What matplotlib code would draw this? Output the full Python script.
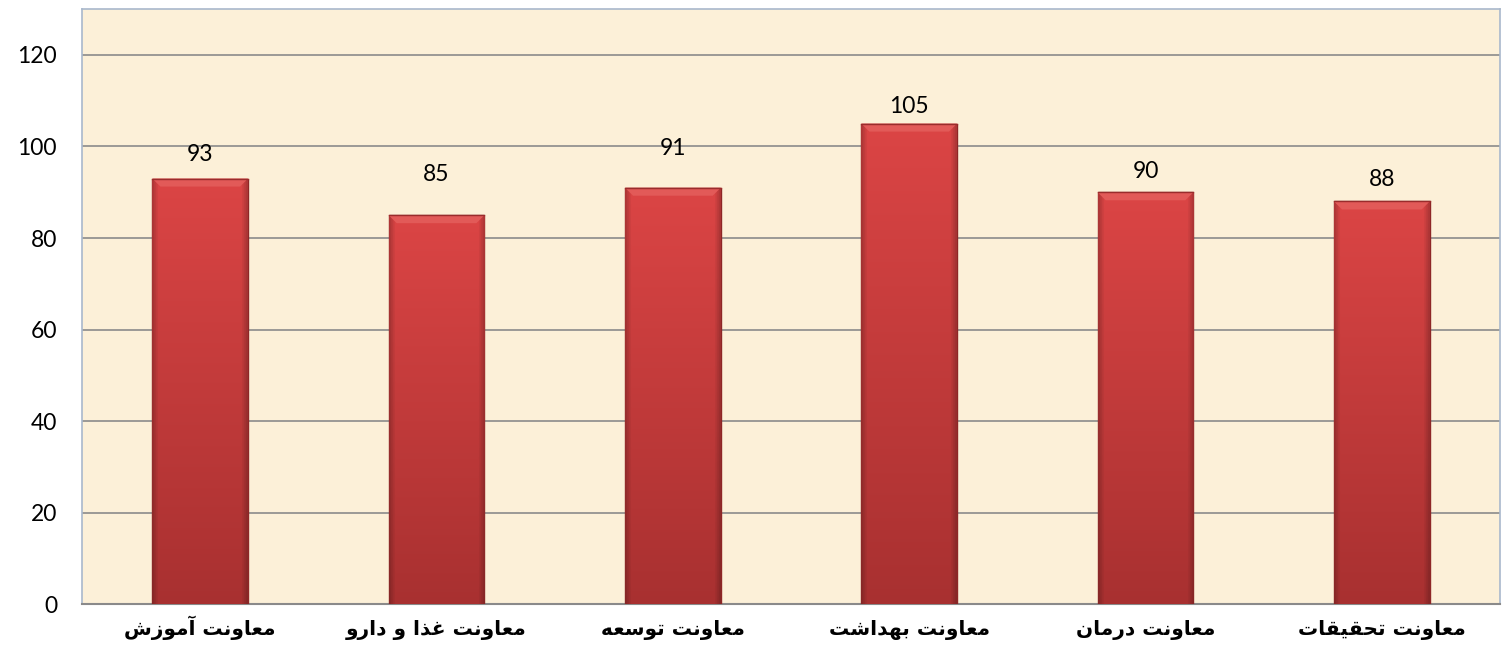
import matplotlib.pyplot as plt
import numpy as np
from matplotlib.patches import Polygon

# data (Persian labels in logical order, left to right on the chart)
categories = ['معاونت آموزش', 'معاونت غذا و دارو', 'معاونت توسعه',
              'معاونت بهداشت', 'معاونت درمان', 'معاونت تحقیقات']
values = [93, 85, 91, 105, 90, 88]
yticks = [0, 20, 40, 60, 80, 100, 120]

# label gaps above the bars (points), labels were placed by hand in the original
label_gap = [17, 29, 28, 12, 15, 16]

# minimal arabic/persian shaping (matplotlib has no shaping engine)
FORMS = {
    '\u0627': ('\uFE8D', '\uFE8E'),
    '\u0622': ('\uFE81', '\uFE82'),
    '\u062F': ('\uFEA9', '\uFEAA'),
    '\u0630': ('\uFEAB', '\uFEAC'),
    '\u0631': ('\uFEAD', '\uFEAE'),
    '\u0632': ('\uFEAF', '\uFEB0'),
    '\u0648': ('\uFEED', '\uFEEE'),
    '\u0628': ('\uFE8F', '\uFE90', '\uFE91', '\uFE92'),
    '\u062A': ('\uFE95', '\uFE96', '\uFE97', '\uFE98'),
    '\u062D': ('\uFEA1', '\uFEA2', '\uFEA3', '\uFEA4'),
    '\u0633': ('\uFEB1', '\uFEB2', '\uFEB3', '\uFEB4'),
    '\u0634': ('\uFEB5', '\uFEB6', '\uFEB7', '\uFEB8'),
    '\u0639': ('\uFEC9', '\uFECA', '\uFECB', '\uFECC'),
    '\u063A': ('\uFECD', '\uFECE', '\uFECF', '\uFED0'),
    '\u0642': ('\uFED5', '\uFED6', '\uFED7', '\uFED8'),
    '\u0645': ('\uFEE1', '\uFEE2', '\uFEE3', '\uFEE4'),
    '\u0646': ('\uFEE5', '\uFEE6', '\uFEE7', '\uFEE8'),
    '\u0647': ('\uFEE9', '\uFEEA', '\uFEEB', '\uFEEC'),
    '\u06CC': ('\uFEF1', '\uFEF2', '\uFEF3', '\uFEF4'),
    '\u064A': ('\uFEF1', '\uFEF2', '\uFEF3', '\uFEF4'),
}


def shape(text):
    out = []
    for i, ch in enumerate(text):
        if ch not in FORMS:
            out.append(ch)
            continue
        prev = text[i - 1] if i > 0 else ''
        nxt = text[i + 1] if i + 1 < len(text) else ''
        jp = prev in FORMS and len(FORMS[prev]) == 4
        jn = nxt in FORMS and len(FORMS[ch]) == 4
        f = FORMS[ch]
        if len(f) == 2:
            out.append(f[1] if jp else f[0])
        elif jp and jn:
            out.append(f[3])
        elif jp:
            out.append(f[1])
        elif jn:
            out.append(f[2])
        else:
            out.append(f[0])
    return ''.join(reversed(out))


fig = plt.figure(figsize=(15.03, 6.49), dpi=100)
ax = fig.add_axes([0.0546, 0.0686, 0.9434, 0.9174])
ax.set_facecolor('#FCF0D8')

x = np.arange(len(values))
bars = ax.bar(x, values, width=0.405, color='#C93A3A', edgecolor='#8E2626',
              linewidth=1.0, zorder=3)

ax.set_xlim(-0.5, len(values) - 0.5)
ax.set_ylim(0, 130)

# gradient fill for the bars
h = np.linspace(0, 1, 100)[:, None]
w = np.linspace(0, 1, 50)[None, :]
top = np.array([0.86, 0.27, 0.27])
bot = np.array([0.66, 0.19, 0.19])
col = bot + (top - bot) * h[..., None]
edge = np.clip(np.minimum(w, 1 - w) / 0.06, 0, 1)[..., None]
col = col * (0.8 + 0.2 * edge)
col = np.broadcast_to(col, (100, 50, 3))
dx, dy = 0.034, 1.75
for b in bars:
    x0, x1, hh = b.get_x(), b.get_x() + b.get_width(), b.get_height()
    im = ax.imshow(col, extent=(x0, x1, 0, hh),
                   origin='lower', aspect='auto', zorder=3.5)
    im.set_clip_path(b)
    # bevel on top
    ax.add_patch(Polygon([(x0, hh), (x1, hh), (x1 - dx, hh - dy), (x0 + dx, hh - dy)],
                         closed=True, facecolor='#E25A58', edgecolor='none', zorder=3.6))
    ax.plot([x0, x1], [hh, hh], color='#9A2C2C', lw=1.0, zorder=3.7)

for xi, v, g in zip(x, values, label_gap):
    ax.annotate(str(v), (xi, v), xytext=(0, g), textcoords='offset points',
                ha='center', va='center', fontsize=16.5, family='Lato',
                color='#000000', zorder=5)

ax.set_yticks(yticks)
ax.set_yticklabels([str(t) for t in yticks], fontsize=16.5, family='Lato')
ax.set_xticks(x)
ax.set_xticklabels([shape(c) for c in categories], fontsize=14.5,
                   family='DejaVu Sans', fontweight='bold', va='baseline')
ax.tick_params(axis='y', length=0, pad=18)
ax.tick_params(axis='x', length=0, pad=22)
ax.grid(axis='y', color='#8A8A8A', linewidth=1.2, zorder=1)
ax.set_axisbelow(True)

for s in ['left', 'top', 'right']:
    ax.spines[s].set_color('#A9B8CC')
    ax.spines[s].set_linewidth(1.2)
ax.spines['bottom'].set_color('#8A8A8A')
ax.spines['bottom'].set_linewidth(1.5)

fig.savefig('out.png', dpi=100, facecolor='white')
